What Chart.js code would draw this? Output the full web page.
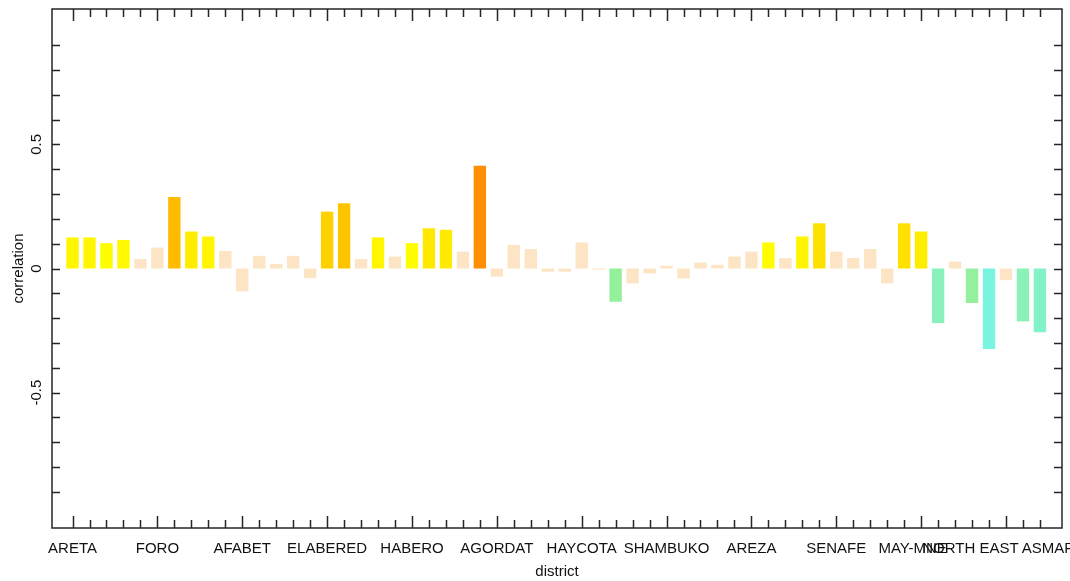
<!DOCTYPE html>
<html>
<head>
<meta charset="utf-8">
<script src="https://cdn.jsdelivr.net/npm/chart.js@4.4.0/dist/chart.umd.min.js"></script>
<style>
  html, body { margin: 0; padding: 0; background: #fff; }
  #wrap { width: 1070px; height: 581px; }
</style>
</head>
<body>
<div id="wrap"><canvas id="corrChart" width="1070" height="581"></canvas></div>
<script>
// one bar per station, grouped by district
const correlations = [
    0.125, 0.125, 0.102, 0.115, 0.038, 0.084, 0.288, 0.149, 0.129, 0.071,
    -0.092, 0.051, 0.018, 0.051, -0.039, 0.229, 0.263, 0.038, 0.125, 0.048,
    0.102, 0.162, 0.156, 0.068, 0.414, -0.033, 0.095, 0.078, -0.013, -0.013,
    0.105, -0.005, -0.134, -0.060, -0.020, 0.011, -0.040, 0.024, 0.015, 0.048,
    0.068, 0.105, 0.042, 0.129, 0.182, 0.068, 0.042, 0.078, -0.060, 0.182,
    0.149, -0.220, 0.028, -0.139, -0.324, -0.047, -0.213, -0.257
];
// 1 = coloured (significant), 0 = pale
const significant = [
    1, 1, 1, 1, 0, 0, 1, 1, 1, 0,
    0, 0, 0, 0, 0, 1, 1, 0, 1, 0,
    1, 1, 1, 0, 1, 0, 0, 0, 0, 0,
    0, 0, 1, 0, 0, 0, 0, 0, 0, 0,
    0, 1, 0, 1, 1, 0, 0, 0, 0, 1,
    1, 1, 0, 1, 1, 0, 1, 1
];
const districtNames = ['ARETA', 'FORO', 'AFABET', 'ELABERED', 'HABERO', 'AGORDAT', 'HAYCOTA',
    'SHAMBUKO', 'AREZA', 'SENAFE', 'MAY-MNE', 'NORTH EAST', 'ASMARA'];
// bar index where each district name sits
const districtAt = [0, 5, 10, 15, 20, 25, 30, 35, 40, 45, 49.5, 52.9, 57.8];
const yTickValues = [-0.5, 0, 0.5];
const yTickLabels = ['-0.5', '0', '0.5'];

const FONT = "'Liberation Sans', Arial, Helvetica, sans-serif";

function barColor(v, sig) {
    if (!sig) return 'rgb(252,228,196)';
    if (v > 0) {
        const g = Math.round(Math.max(140, Math.min(255, 255 - 360 * (v - 0.1))));
        return 'rgb(255,' + g + ',0)';
    }
    const t = Math.max(0, Math.min(1, (-v - 0.13) / 0.2));
    return 'rgb(' + Math.round(150 - 30 * t) + ',' + Math.round(240 + 5 * t) + ',' + Math.round(155 + 70 * t) + ')';
}

// box round the plot with inward ticks on all four sides
const frameTicks = {
    id: 'frameTicks',
    afterDatasetsDraw(chart) {
        const {ctx, chartArea: a, scales: {x, y}} = chart;
        ctx.save();
        ctx.strokeStyle = '#262626';
        ctx.lineWidth = 1.5;
        ctx.strokeRect(a.left, a.top, a.right - a.left, a.bottom - a.top);
        ctx.beginPath();
        correlations.forEach((v, i) => {
            const px = Math.round(x.getPixelForValue(i)) + 0.5;
            const len = i % 5 === 0 ? 12 : 8;
            ctx.moveTo(px, a.bottom); ctx.lineTo(px, a.bottom - len);
            ctx.moveTo(px, a.top); ctx.lineTo(px, a.top + len);
        });
        for (let k = -9; k <= 9; k++) {
            const py = Math.round(y.getPixelForValue(k / 10)) + 0.5;
            ctx.moveTo(a.left, py); ctx.lineTo(a.left + 8, py);
            ctx.moveTo(a.right, py); ctx.lineTo(a.right - 8, py);
        }
        ctx.stroke();
        ctx.restore();
    }
};

const ctx = document.getElementById('corrChart').getContext('2d');

const corrChart = new Chart(ctx, {
    type: 'bar',
    data: {
        datasets: [{
            data: correlations.map((v, i) => ({x: i, y: v})),
            backgroundColor: correlations.map((v, i) => barColor(v, significant[i])),
            borderWidth: 0,
            barPercentage: 0.73,
            categoryPercentage: 1
        }]
    },
    plugins: [frameTicks],
    options: {
        responsive: false,
        animation: false,
        layout: {
            padding: {left: 0, right: 8, top: 9, bottom: 0}
        },
        plugins: {
            legend: {display: false},
            tooltip: {enabled: false}
        },
        scales: {
            x: {
                type: 'linear',
                min: -1.21,
                max: 58.3,
                offset: false,
                grid: {display: false, drawTicks: false, offset: false},
                border: {display: false},
                afterBuildTicks: (scale) => {
                    scale.ticks = districtAt.map(v => ({value: v}));
                },
                afterFit: (scale) => {
                    scale.height = 53;
                    scale.paddingLeft = 0;
                    scale.paddingRight = 0;
                },
                ticks: {
                    autoSkip: false,
                    maxRotation: 0,
                    minRotation: 0,
                    padding: 12,
                    color: '#111',
                    font: {family: FONT, size: 15},
                    callback: (value, index) => districtNames[index]
                },
                title: {
                    display: true,
                    text: 'district',
                    color: '#111',
                    font: {family: FONT, size: 15},
                    padding: {top: 0, bottom: 0}
                }
            },
            y: {
                min: -1.045,
                max: 1.045,
                grid: {display: false, drawTicks: false},
                border: {display: false},
                afterBuildTicks: (scale) => {
                    scale.ticks = yTickValues.map(v => ({value: v}));
                },
                afterFit: (scale) => {
                    scale.width = 52;
                    scale.paddingTop = 0;
                    scale.paddingBottom = 0;
                },
                ticks: {
                    minRotation: 90,
                    maxRotation: 90,
                    crossAlign: 'center',
                    padding: 2,
                    color: '#111',
                    font: {family: FONT, size: 15},
                    callback: (value, index) => yTickLabels[index]
                },
                title: {
                    display: true,
                    text: 'correlation',
                    color: '#111',
                    font: {family: FONT, size: 15},
                    padding: {top: 10, bottom: 0}
                }
            }
        }
    }
});
</script>
</body>
</html>
